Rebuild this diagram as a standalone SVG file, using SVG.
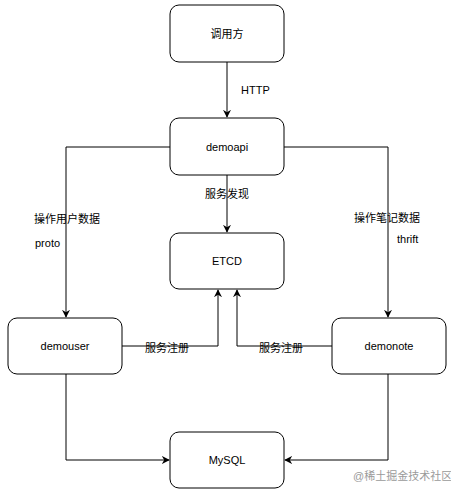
<svg xmlns="http://www.w3.org/2000/svg" width="451" height="494" viewBox="0 0 451 494">
<style>
.box{fill:#fff;stroke:#000;stroke-width:1}
.t{font-family:"Liberation Sans","Noto Sans CJK SC",sans-serif;font-size:11px;fill:#000}
.c{text-anchor:middle;dominant-baseline:central}
.e{fill:none;stroke:#000;stroke-width:1}
</style>
<defs>
<marker id="ah" viewBox="0 0 10 10" refX="9" refY="5" markerWidth="8" markerHeight="8" markerUnits="userSpaceOnUse" orient="auto">
<path d="M0,0 L10,5 L0,10 L3,5 Z" fill="#000"/>
</marker>
</defs>
<rect width="451" height="494" fill="#fff"/>
<g id="connectors">
<path class="e" d="M227,62 V117" marker-end="url(#ah)"/>
<path class="e" d="M227,175 V232" marker-end="url(#ah)"/>
<path class="e" d="M170,147 H66 V317" marker-end="url(#ah)"/>
<path class="e" d="M284,147 H388 V317" marker-end="url(#ah)"/>
<path class="e" d="M122,346 H218 V290" marker-end="url(#ah)"/>
<path class="e" d="M332,346 H237 V290" marker-end="url(#ah)"/>
<path class="e" d="M66,374 V460 H169" marker-end="url(#ah)"/>
<path class="e" d="M388,374 V460 H285" marker-end="url(#ah)"/>
<text class="t" x="241" y="90" dominant-baseline="central">HTTP</text>
<text class="t c" x="227" y="194">服务发现</text>
<text class="t" x="34" y="219" dominant-baseline="central">操作用户数据</text>
<text class="t" x="35" y="243" dominant-baseline="central">proto</text>
<text class="t" x="354" y="218" dominant-baseline="central">操作笔记数据</text>
<text class="t" x="397" y="239" dominant-baseline="central">thrift</text>
<text class="t c" x="167" y="348">服务注册</text>
<text class="t c" x="281" y="348">服务注册</text>
</g>
<g id="caller">
<rect class="box" x="170" y="5" width="114" height="57" rx="9"/>
<text class="t c" x="227" y="33.5">调用方</text>
</g>
<g id="demoapi">
<rect class="box" x="170" y="118" width="114" height="57" rx="9"/>
<text class="t c" x="227" y="146.5">demoapi</text>
</g>
<g id="etcd">
<rect class="box" x="170" y="233" width="114" height="56" rx="9"/>
<text class="t c" x="227" y="261">ETCD</text>
</g>
<g id="demouser">
<rect class="box" x="8" y="318" width="114" height="56" rx="9"/>
<text class="t c" x="65" y="346">demouser</text>
</g>
<g id="demonote">
<rect class="box" x="332" y="318" width="114" height="56" rx="9"/>
<text class="t c" x="389" y="346">demonote</text>
</g>
<g id="mysql">
<rect class="box" x="170" y="432" width="114" height="56" rx="9"/>
<text class="t c" x="227" y="460">MySQL</text>
</g>
<text x="353" y="476" dominant-baseline="central" style="font-family:'Liberation Sans','Noto Sans CJK SC',sans-serif;font-size:11px;fill:#9a9a9a">@稀土掘金技术社区</text>
</svg>
